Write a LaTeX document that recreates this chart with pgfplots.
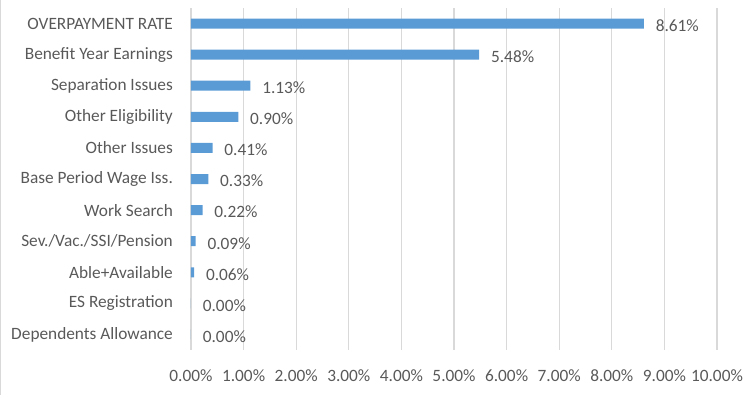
\documentclass[border=0pt]{standalone}
\usepackage{fontspec}
\setmainfont{Carlito}
\usepackage{pgfplots}
\pgfplotsset{compat=1.18}
\definecolor{barblue}{HTML}{5B9BD5}
\definecolor{txtgray}{HTML}{595959}
\definecolor{gridgray}{HTML}{D9D9D9}
\begin{document}
\fontsize{17}{20}\selectfont
\begin{tikzpicture}
\begin{axis}[
  name=ax,
  scale only axis,
  width=526pt, height=342pt,
  xmin=0, xmax=10,
  ymin=-0.5, ymax=10.5,
  y dir=reverse,
  xtick={0,1,...,10},
  ytick={0,...,10},
  yticklabels={OVERPAYMENT RATE,Benefit Year Earnings,Separation Issues,Other Eligibility,Other Issues,Base Period Wage Iss.,Work Search,Sev./Vac./SSI/Pension,Able+Available,ES Registration,Dependents Allowance},
  /pgf/number format/assume math mode=true,
  xticklabel={\pgfmathprintnumber[fixed,fixed zerofill,precision=2]{\tick}\%},
  xmajorgrids,
  major grid style={gridgray, line width=1.2pt},
  axis line style={draw=none},
  major tick style={draw=none},
  tick label style={text=txtgray, font=\fontsize{17.3}{20}\selectfont},
  yticklabel style={xshift=-8pt},
  xticklabel style={yshift=-14pt},
  xbar,
  bar width=10pt,
  bar shift=0pt,
  point meta=x,
  nodes near coords={\pgfmathprintnumber[fixed,fixed zerofill,precision=2]{\pgfplotspointmeta}\%},
  every node near coord/.append style={anchor=west, xshift=6pt, yshift=-2pt, text=txtgray, font=\fontsize{17.3}{20}\selectfont},
]
\addplot[fill=barblue, draw=none] coordinates {
(8.61,0) (5.48,1) (1.13,2) (0.90,3) (0.41,4) (0.33,5) (0.22,6) (0.09,7) (0.06,8) (0,9) (0,10)
};
\end{axis}
\pgfresetboundingbox
\path[use as bounding box] ([shift={(-191pt,-47pt)}]ax.south west) rectangle ([shift={(33pt,8pt)}]ax.north east);
\draw[gridgray, line width=1pt] ([shift={(-190pt,8pt)}]ax.north west) -- ([shift={(-190pt,-45pt)}]ax.south west);
\end{tikzpicture}
\end{document}
